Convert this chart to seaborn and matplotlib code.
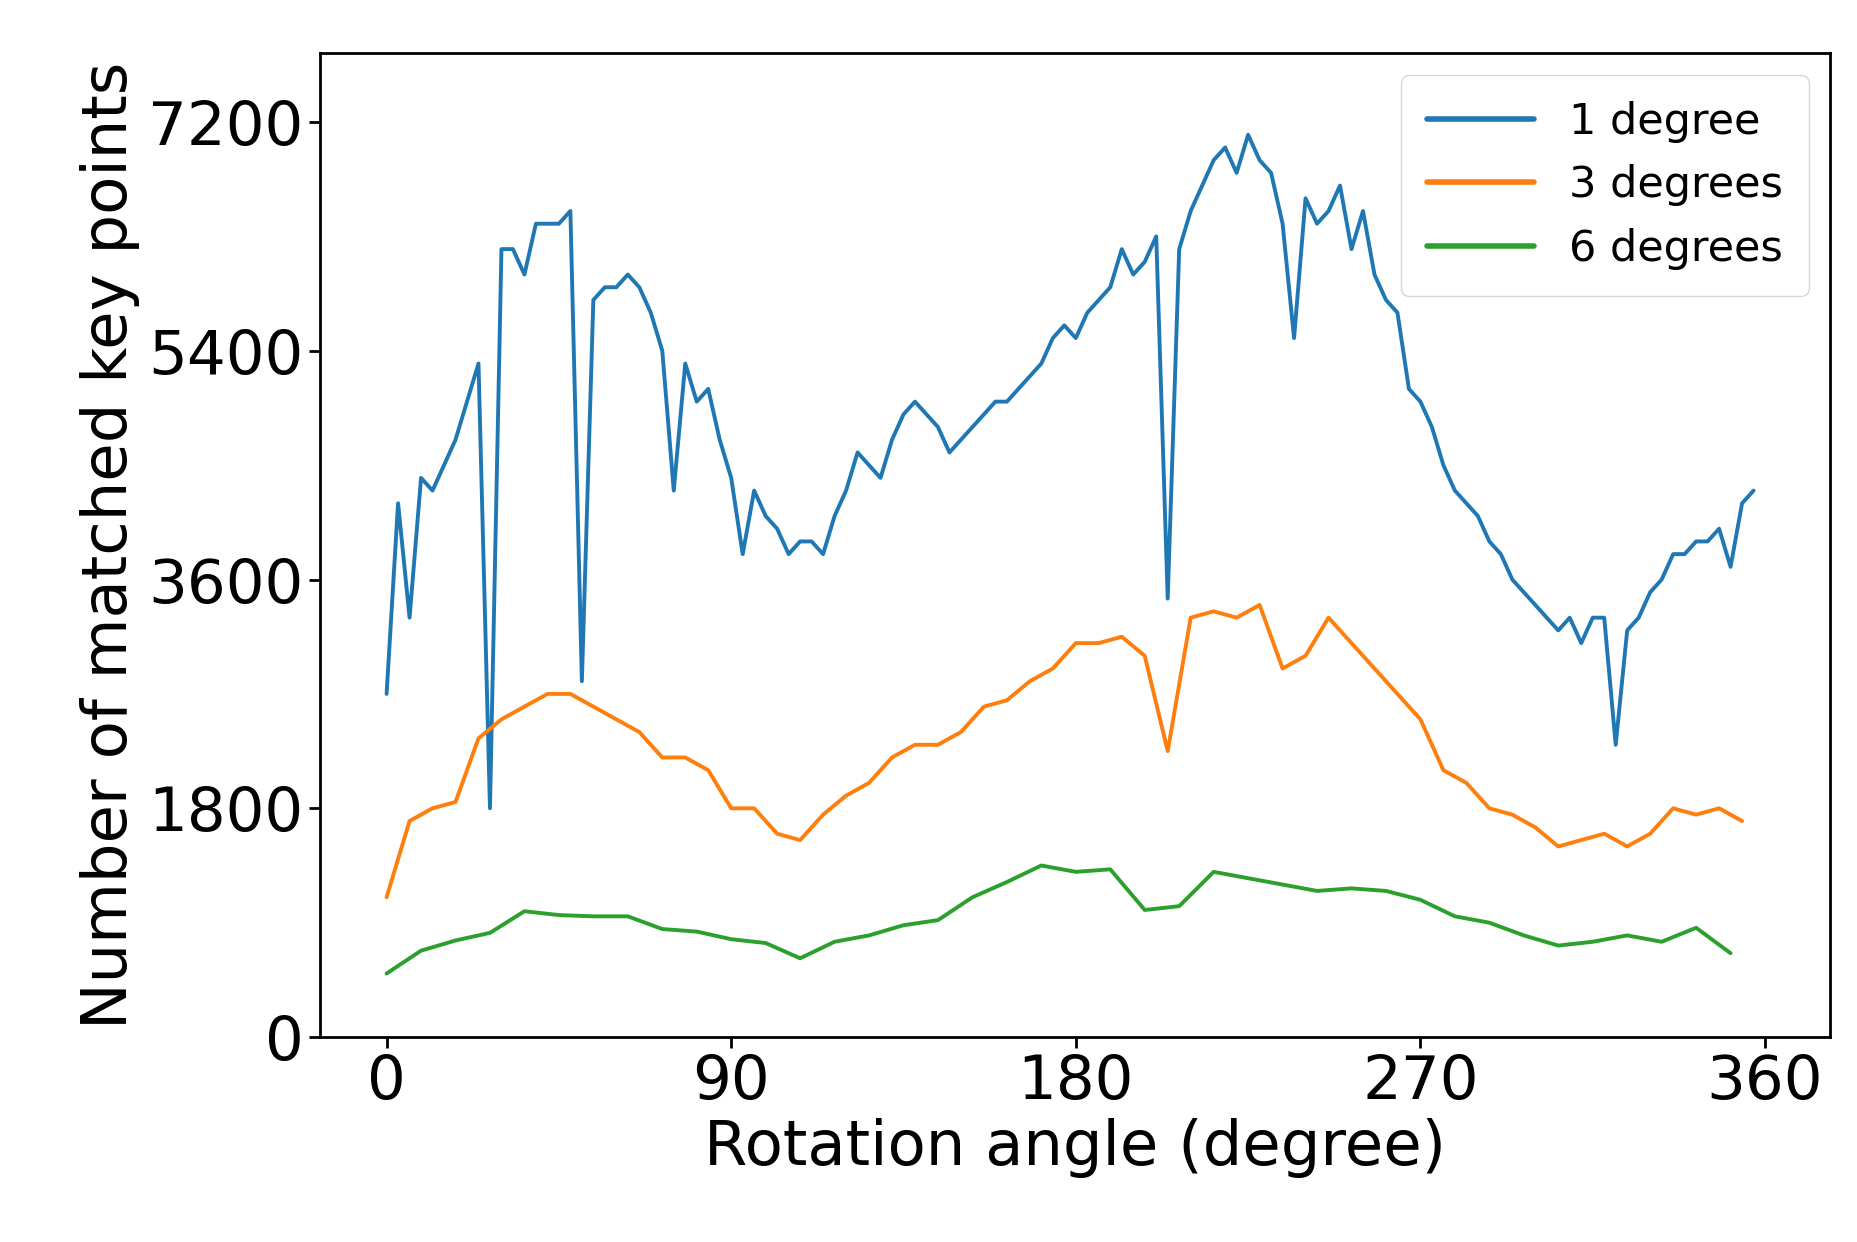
import numpy as np
import pandas as pd
import matplotlib
matplotlib.use("Agg")
import matplotlib.pyplot as plt
import seaborn as sns

# 1 degree step series (read every 3 degrees)
angles_1 = list(range(0, 360, 3))
counts_1 = [2700, 4200, 3300, 4400, 4300, 4500, 4700, 5000, 5300, 1800,
            6200, 6200, 6000, 6400, 6400, 6400, 6500, 2800, 5800, 5900,
            5900, 6000, 5900, 5700, 5400, 4300, 5300, 5000, 5100, 4700,
            4400, 3800, 4300, 4100, 4000, 3800, 3900, 3900, 3800, 4100,
            4300, 4600, 4500, 4400, 4700, 4900, 5000, 4900, 4800, 4600,
            4700, 4800, 4900, 5000, 5000, 5100, 5200, 5300, 5500, 5600,
            5500, 5700, 5800, 5900, 6200, 6000, 6100, 6300, 3450, 6200,
            6500, 6700, 6900, 7000, 6800, 7100, 6900, 6800, 6400, 5500,
            6600, 6400, 6500, 6700, 6200, 6500, 6000, 5800, 5700, 5100,
            5000, 4800, 4500, 4300, 4200, 4100, 3900, 3800, 3600, 3500,
            3400, 3300, 3200, 3300, 3100, 3300, 3300, 2300, 3200, 3300,
            3500, 3600, 3800, 3800, 3900, 3900, 4000, 3700, 4200, 4300]

angles_3 = list(range(0, 360, 6))
counts_3 = [1100, 1700, 1800, 1850, 2350, 2500, 2600, 2700, 2700, 2600,
            2500, 2400, 2200, 2200, 2100, 1800, 1800, 1600, 1550, 1750,
            1900, 2000, 2200, 2300, 2300, 2400, 2600, 2650, 2800, 2900,
            3100, 3100, 3150, 3000, 2250, 3300, 3350, 3300, 3400, 2900,
            3000, 3300, 3100, 2900, 2700, 2500, 2100, 2000, 1800, 1750,
            1650, 1500, 1550, 1600, 1500, 1600, 1800, 1750, 1800, 1700]

angles_6 = list(range(0, 360, 9))
counts_6 = [500, 680, 760, 820, 990, 960, 950, 950, 850, 830,
            770, 740, 620, 750, 800, 880, 920, 1100, 1220, 1350,
            1300, 1320, 1000, 1030, 1300, 1250, 1200, 1150, 1170, 1150,
            1080, 950, 900, 800, 720, 750, 800, 750, 860, 660]

df = pd.concat([
    pd.DataFrame({"angle": angles_1, "count": counts_1, "step": "1 degree"}),
    pd.DataFrame({"angle": angles_3, "count": counts_3, "step": "3 degrees"}),
    pd.DataFrame({"angle": angles_6, "count": counts_6, "step": "6 degrees"}),
])

sns.set_style("ticks")
plt.rcParams['font.family'] = ['DejaVu Sans']
plt.rcParams['text.color'] = 'black'
plt.rcParams['axes.labelcolor'] = 'black'
plt.rcParams['xtick.color'] = 'black'
plt.rcParams['ytick.color'] = 'black'

fig, ax = plt.subplots(figsize=(18.58, 12.42), dpi=100)
sns.lineplot(data=df, x="angle", y="count", hue="step",
             palette=["#1f77b4", "#ff7f0e", "#2ca02c"], linewidth=2.8, ax=ax)

ax.set_xlim(-17.5, 377)
ax.set_ylim(0, 7740)
ax.set_xticks([0, 90, 180, 270, 360])
ax.set_yticks([0, 1800, 3600, 5400, 7200])
ax.tick_params(labelsize=44, width=2, length=8)
for s in ax.spines.values():
    s.set_linewidth(2)
    s.set_color("black")
ax.set_xlabel("Rotation angle (degree)", fontsize=45, labelpad=4)
ax.set_ylabel("Number of matched key points", fontsize=45, labelpad=6)
leg = ax.legend(loc="upper right", fontsize=31, handlelength=2.5, borderpad=0.6)
for line in leg.get_lines():
    line.set_linewidth(4)

plt.subplots_adjust(left=0.172, right=0.985, top=0.957, bottom=0.165)
plt.savefig("out.png")
